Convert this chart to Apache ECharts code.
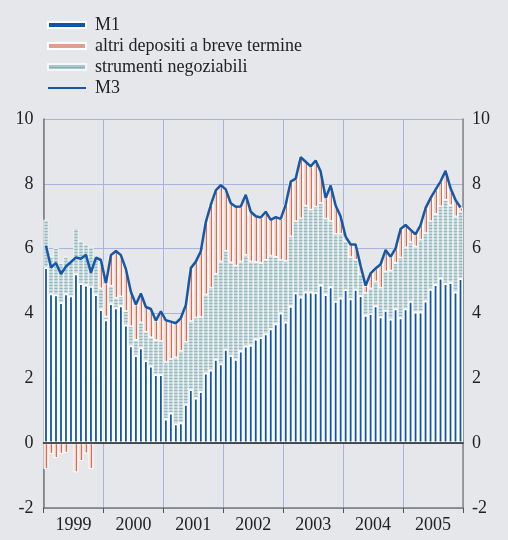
<!DOCTYPE html>
<html>
<head>
<meta charset="utf-8">
<script src="https://cdn.jsdelivr.net/npm/echarts@6/dist/echarts.min.js"></script>
<style>
html, body { margin: 0; padding: 0; background: #e6e7ea; }
#chart { width: 508px; height: 540px; }
</style>
</head>
<body>
<div id="chart"></div>
<script>
// anni sull'asse orizzontale (12 mesi ciascuno)
var years = ['1999', '2000', '2001', '2002', '2003', '2004', '2005'];

// contributi mensili, punti percentuali
var m1 = [
  5.42, 4.61, 4.58, 4.34, 4.61, 4.55, 5.23, 4.93, 4.88, 4.84, 4.59, 4.13,
  3.81, 4.31, 4.18, 4.24, 3.65, 3.01, 2.71, 2.95, 2.55, 2.38, 2.12, 2.12,
  0.75, 0.93, 0.60, 0.63, 1.20, 1.66, 1.40, 1.60, 2.17, 2.26, 2.59, 2.45,
  2.90, 2.71, 2.59, 2.85, 3.00, 3.02, 3.22, 3.26, 3.38, 3.53, 3.69, 4.02,
  3.74, 4.23, 4.64, 4.51, 4.67, 4.67, 4.65, 4.88, 4.59, 4.83, 4.38, 4.48,
  4.74, 4.46, 4.75, 4.56, 3.95, 4.00, 4.24, 3.90, 4.10, 3.83, 4.15, 3.87,
  4.15, 4.38, 4.05, 4.05, 4.39, 4.75, 4.90, 5.10, 4.93, 4.96, 4.67, 5.08
];
var strumenti = [
  1.47, 1.14, 1.44, 1.21, 1.14, 1.07, 1.40, 1.31, 1.25, 1.22, 1.11, 0.64,
  0.09, 0.54, 0.30, 0.28, 0.42, 0.59, 0.47, 0.77, 0.88, 0.88, 1.05, 1.02,
  1.74, 1.66, 2.04, 2.21, 1.92, 2.10, 2.47, 2.28, 2.41, 2.53, 2.63, 3.15,
  3.03, 2.86, 2.88, 2.75, 2.80, 2.58, 2.36, 2.29, 2.27, 2.25, 2.05, 1.62,
  1.88, 2.14, 2.20, 2.42, 2.65, 2.53, 2.64, 2.52, 2.33, 2.01, 2.07, 1.97,
  1.48, 1.27, 0.90, 0.64, 0.67, 0.77, 0.74, 0.89, 1.19, 1.49, 1.40, 1.85,
  1.88, 1.81, 2.01, 2.22, 2.08, 2.09, 2.16, 2.20, 2.57, 2.37, 2.32, 2.06
];
var altri = [
  -0.80, -0.33, -0.46, -0.33, -0.30, -0.03, -0.90, -0.55, -0.32, -0.80, 0.02, 0.88,
  1.03, 0.95, 1.45, 1.28, 1.30, 1.07, 1.10, 0.90, 0.77, 0.88, 0.61, 0.93,
  1.30, 1.16, 1.06, 1.02, 1.14, 1.64, 1.73, 2.04, 2.24, 2.56, 2.58, 2.36,
  1.90, 1.83, 1.82, 1.70, 1.86, 1.54, 1.42, 1.41, 1.49, 1.11, 1.23, 1.28,
  1.74, 1.70, 1.32, 1.89, 1.36, 1.34, 1.43, 0.98, 0.64, 1.11, 0.88, 0.54,
  0.15, 0.40, 0.48, 0.27, 0.24, 0.47, 0.41, 0.73, 0.67, 0.43, 0.46, 0.89,
  0.70, 0.39, 0.38, 0.46, 0.78, 0.72, 0.76, 0.77, 0.90, 0.54, 0.51, 0.13
];
var m3 = [
  6.09, 5.42, 5.56, 5.22, 5.45, 5.59, 5.73, 5.69, 5.81, 5.26, 5.72, 5.65,
  4.93, 5.80, 5.93, 5.80, 5.37, 4.67, 4.28, 4.62, 4.20, 4.14, 3.78, 4.07,
  3.79, 3.75, 3.70, 3.86, 4.26, 5.40, 5.60, 5.92, 6.82, 7.35, 7.80, 7.96,
  7.83, 7.40, 7.29, 7.30, 7.66, 7.14, 7.00, 6.96, 7.14, 6.89, 6.97, 6.92,
  7.36, 8.07, 8.16, 8.82, 8.68, 8.54, 8.72, 8.38, 7.56, 7.95, 7.33, 6.99,
  6.37, 6.13, 6.13, 5.47, 4.86, 5.24, 5.39, 5.52, 5.96, 5.75, 6.01, 6.61,
  6.73, 6.58, 6.44, 6.73, 7.25, 7.56, 7.82, 8.07, 8.40, 7.87, 7.50, 7.27
];

var months = [];
for (var y = 0; y < years.length; y++) {
  for (var m = 1; m <= 12; m++) {
    months.push(years[y] + '-' + (m < 10 ? '0' + m : m));
  }
}

var serif = '"Liberation Serif", "DejaVu Serif", serif';
var gridColor = '#a9b3dd';

// barre rosa con una riga rossa sottile, come il tratteggio originale
var salmonFill = new echarts.graphic.LinearGradient(0, 0, 1, 0, [
  { offset: 0, color: '#f3cdc2' },
  { offset: 0.55, color: '#f3cdc2' },
  { offset: 0.55, color: '#d16f5a' },
  { offset: 0.78, color: '#d16f5a' },
  { offset: 0.78, color: '#f3cdc2' },
  { offset: 1, color: '#f3cdc2' }
]);

var chart = echarts.init(document.getElementById('chart'));

var option = {
  backgroundColor: '#e6e7ea',
  animation: false,
  grid: {
    left: 43.5,
    right: 45,
    top: 119,
    bottom: 32,
    outerBoundsMode: 'none'
  },
  legend: {
    orient: 'vertical',
    left: 42,
    top: 11,
    itemWidth: 38,
    itemHeight: 6,
    itemGap: 3,
    selectedMode: false,
    textStyle: {
      fontFamily: serif,
      fontSize: 18,
      color: '#222',
      lineHeight: 18,
      padding: [0, 0, 0, 4]
    },
    data: [
      { name: 'M1', icon: 'rect' },
      { name: 'altri depositi a breve termine', icon: 'rect', itemStyle: { color: '#df9f8f' } },
      { name: 'strumenti negoziabili', icon: 'rect', itemStyle: { color: '#a9c6cc' } },
      {
        name: 'M3',
        lineStyle: { width: 2 },
        itemStyle: { color: 'rgba(0,0,0,0)', borderColor: 'rgba(0,0,0,0)', borderWidth: 0 }
      }
    ]
  },
  xAxis: [
    {
      type: 'category',
      data: months,
      boundaryGap: true,
      z: 10,
      axisLine: { onZero: true, lineStyle: { color: '#1a1a1a', width: 1.5 } },
      axisTick: { show: false },
      axisLabel: { show: false },
      splitLine: { show: false }
    },
    {
      type: 'category',
      data: years,
      position: 'bottom',
      boundaryGap: true,
      z: 0,
      axisLine: { onZero: false, lineStyle: { color: '#7a7a7a', width: 1.5 } },
      axisTick: { show: true, interval: 0, length: 5, lineStyle: { color: '#555' } },
      axisLabel: { interval: 0, fontFamily: serif, fontSize: 18, color: '#222', margin: 8 },
      splitLine: { show: true, interval: 0, lineStyle: { color: gridColor, width: 1 } }
    }
  ],
  yAxis: [
    {
      type: 'value',
      position: 'left',
      min: -2,
      max: 10,
      interval: 2,
      axisLine: { show: true, lineStyle: { color: '#777', width: 1.5 } },
      axisTick: { show: false },
      axisLabel: { fontFamily: serif, fontSize: 18, color: '#222', margin: 10 },
      splitLine: { show: true, lineStyle: { color: gridColor, width: 1 } }
    },
    {
      type: 'value',
      position: 'right',
      min: -2,
      max: 10,
      interval: 2,
      axisLine: { show: true, lineStyle: { color: '#888', width: 1.5 } },
      axisTick: { show: false },
      axisLabel: { fontFamily: serif, fontSize: 18, color: '#222', margin: 9 },
      splitLine: { show: false }
    }
  ],
  series: [
    {
      name: 'M1',
      type: 'bar',
      stack: 'm3',
      barCategoryGap: '0%',
      data: m1,
      itemStyle: { color: '#1055a6', borderColor: '#fff', borderWidth: 1.6 }
    },
    {
      name: 'strumenti negoziabili',
      type: 'bar',
      stack: 'm3',
      data: strumenti,
      itemStyle: {
        color: '#c4d8db',
        borderColor: '#f4f7f7',
        borderWidth: 0.6,
        decal: {
          symbol: 'rect',
          symbolSize: 1,
          dashArrayX: [1, 0],
          dashArrayY: [1, 2],
          color: 'rgba(95,145,155,0.45)'
        }
      }
    },
    {
      name: 'altri depositi a breve termine',
      type: 'bar',
      stack: 'm3',
      data: altri,
      itemStyle: { color: salmonFill, borderColor: '#fff', borderWidth: 1 }
    },
    {
      name: 'M3',
      type: 'line',
      data: m3,
      symbol: 'none',
      z: 5,
      lineStyle: { color: '#1458a6', width: 2.5 },
      itemStyle: { color: '#1458a6' }
    }
  ]
};

chart.setOption(option);
</script>
</body>
</html>
